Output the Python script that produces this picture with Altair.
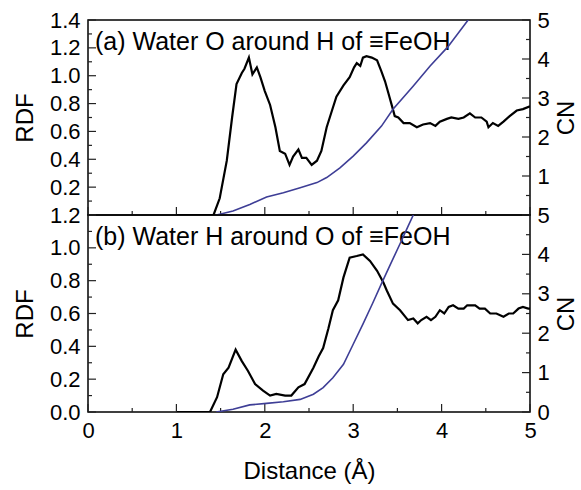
import altair as alt
import pandas as pd

FONT = "Liberation Sans"

# ---------------- data ----------------
# (a) Water O around H of ≡FeOH
a_rdf_d = [1.00, 1.40, 1.42, 1.49, 1.57, 1.63, 1.68, 1.74, 1.77, 1.82, 1.86, 1.91, 1.95, 2.00,
           2.06, 2.12, 2.17, 2.23, 2.28, 2.32, 2.38, 2.42, 2.47, 2.53, 2.59, 2.64, 2.70, 2.76,
           2.81, 2.89, 2.96, 3.01, 3.04, 3.08, 3.11, 3.15, 3.21, 3.27, 3.32, 3.36, 3.40, 3.44,
           3.47, 3.51, 3.57, 3.64, 3.72, 3.79, 3.87, 3.93, 3.98, 4.06, 4.11, 4.19, 4.25, 4.32,
           4.38, 4.45, 4.51, 4.53, 4.58, 4.64, 4.70, 4.77, 4.85, 4.92, 5.00]
a_rdf_g = [0.00, 0.00, 0.00, 0.12, 0.39, 0.70, 0.94, 1.02, 1.05, 1.13, 1.01, 1.06, 0.99, 0.89,
           0.79, 0.63, 0.46, 0.44, 0.36, 0.42, 0.47, 0.41, 0.41, 0.36, 0.39, 0.46, 0.63, 0.75,
           0.85, 0.93, 0.99, 1.06, 1.09, 1.07, 1.13, 1.14, 1.13, 1.11, 1.03, 0.96, 0.87, 0.78,
           0.71, 0.70, 0.66, 0.66, 0.63, 0.65, 0.66, 0.64, 0.67, 0.69, 0.70, 0.69, 0.70, 0.73,
           0.70, 0.70, 0.67, 0.63, 0.66, 0.64, 0.67, 0.71, 0.75, 0.76, 0.78]
a_cn_d = [1.45, 1.49, 1.64, 1.83, 2.02, 2.21, 2.40, 2.59, 2.70, 2.85, 3.00, 3.15, 3.32, 3.45,
          3.68, 3.87, 4.07, 4.30, 4.36]
a_cn_c = [0.00, 0.02, 0.10, 0.27, 0.46, 0.57, 0.70, 0.83, 0.96, 1.21, 1.51, 1.85, 2.28, 2.71,
          3.31, 3.82, 4.31, 5.00, 5.15]

# (b) Water H around O of ≡FeOH
b_rdf_d = [1.00, 1.38, 1.46, 1.53, 1.59, 1.67, 1.74, 1.81, 1.89, 1.98, 2.06, 2.13, 2.23, 2.30,
           2.38, 2.45, 2.55, 2.61, 2.66, 2.72, 2.77, 2.83, 2.89, 2.96, 3.04, 3.11, 3.19, 3.27,
           3.34, 3.38, 3.45, 3.53, 3.62, 3.68, 3.73, 3.77, 3.83, 3.88, 3.93, 3.98, 4.03, 4.08,
           4.13, 4.19, 4.25, 4.29, 4.38, 4.43, 4.49, 4.55, 4.62, 4.70, 4.76, 4.81, 4.87, 4.92,
           4.98, 5.00]
b_rdf_g = [0.00, 0.00, 0.09, 0.23, 0.27, 0.38, 0.31, 0.25, 0.17, 0.13, 0.10, 0.11, 0.10, 0.10,
           0.15, 0.17, 0.27, 0.34, 0.39, 0.51, 0.62, 0.68, 0.82, 0.94, 0.95, 0.96, 0.92, 0.86,
           0.79, 0.74, 0.66, 0.62, 0.56, 0.57, 0.54, 0.56, 0.58, 0.56, 0.58, 0.62, 0.60, 0.64,
           0.65, 0.63, 0.63, 0.65, 0.65, 0.63, 0.63, 0.60, 0.60, 0.58, 0.60, 0.60, 0.63, 0.64,
           0.63, 0.63]
b_cn_d = [1.45, 1.64, 1.83, 2.02, 2.21, 2.40, 2.55, 2.66, 2.77, 2.89, 3.00, 3.11, 3.22, 3.32,
          3.43, 3.53, 3.62, 3.68, 3.72]
b_cn_c = [0.00, 0.07, 0.18, 0.22, 0.26, 0.32, 0.45, 0.62, 0.87, 1.21, 1.72, 2.23, 2.76, 3.26,
          3.79, 4.27, 4.71, 5.00, 5.19]

labels = ["(a) Water O around H of ≡FeOH", "(b) Water H around O of ≡FeOH"]

x_major = [0, 1, 2, 3, 4, 5]
x_minor = [0.5, 1.5, 2.5, 3.5, 4.5]
a_rdf_labels = [0.2, 0.4, 0.6, 0.8, 1.0, 1.2, 1.4]
a_rdf_minor = [0.1, 0.3, 0.5, 0.7, 0.9, 1.1, 1.3]
b_rdf_labels = [0.0, 0.2, 0.4, 0.6, 0.8, 1.0, 1.2]
b_rdf_minor = [0.1, 0.3, 0.5, 0.7, 0.9, 1.1]
a_cn_labels = [1, 2, 3, 4, 5]
b_cn_labels = [0, 1, 2, 3, 4, 5]
cn_minor = [0.5, 1.5, 2.5, 3.5, 4.5]

W = 442
BLUE = "#3e3e96"
MAJ = 8
MIN = 4


def panel(rd, rg, cd, cc, rmax, rlabels, rminor, clabels, label, h, bottom):
    xs = alt.Scale(domain=[0, 5], nice=False, zero=False)
    ys = alt.Scale(domain=[0, rmax], nice=False)
    cs = alt.Scale(domain=[0, 5], nice=False)
    if bottom:
        xaxis = alt.Axis(values=x_major, format="d", ticks=False, domain=False, grid=False,
                         labelFlush=False, labelOverlap=False, labelPadding=8,
                         title="Distance (Å)", titlePadding=18)
    else:
        xaxis = None
    yaxis = alt.Axis(values=rlabels, format=".1f", ticks=False, domain=False, grid=False,
                     labelPadding=8, labelOverlap=False, labelFlush=False,
                     title="RDF", titlePadding=12)
    caxis = alt.Axis(values=clabels, format="d", orient="right", ticks=False, domain=False,
                     grid=False, labelPadding=7, labelOverlap=False, labelFlush=False,
                     title="CN", titleAngle=270, titleBaseline="top", titlePadding=5)

    rdf_df = pd.DataFrame({"d": rd, "g": rg})
    cn_df = pd.DataFrame({"d": cd, "c": cc})

    X = lambda: alt.X("d:Q", scale=xs, axis=xaxis, title="Distance (Å)")
    Y = lambda: alt.Y("g:Q", scale=ys, axis=yaxis, title="RDF")
    C = lambda: alt.Y("c:Q", scale=cs, axis=caxis, title="CN")

    rdf_line = alt.Chart(rdf_df).mark_line(color="black", strokeWidth=2.2, clip=True).encode(
        x=X(), y=Y())
    lmaj = alt.Chart(pd.DataFrame({"g": rlabels})).mark_rule(color="#222", strokeWidth=1.2).encode(
        y=Y(), x=alt.value(0), x2=alt.value(MAJ))
    lmin = alt.Chart(pd.DataFrame({"g": rminor})).mark_rule(color="#222", strokeWidth=1.2).encode(
        y=Y(), x=alt.value(0), x2=alt.value(MIN))
    xmaj = alt.Chart(pd.DataFrame({"d": x_major})).mark_rule(color="#222", strokeWidth=1.2).encode(
        x=X(), y=alt.value(h), y2=alt.value(h - MAJ))
    xmin = alt.Chart(pd.DataFrame({"d": x_minor})).mark_rule(color="#222", strokeWidth=1.2).encode(
        x=X(), y=alt.value(h), y2=alt.value(h - MIN))
    txt = alt.Chart(pd.DataFrame({"t": [label]})).mark_text(
        align="left", baseline="middle", font=FONT, fontSize=25, color="black").encode(
        x=alt.value(7), y=alt.value(22), text="t:N")

    cn_line = alt.Chart(cn_df).mark_line(color=BLUE, strokeWidth=1.6, clip=True).encode(
        x=X(), y=C())
    rmaj = alt.Chart(pd.DataFrame({"c": b_cn_labels})).mark_rule(color="#222", strokeWidth=1.2).encode(
        y=C(), x=alt.value(W), x2=alt.value(W - MAJ))
    rmin = alt.Chart(pd.DataFrame({"c": cn_minor})).mark_rule(color="#222", strokeWidth=1.2).encode(
        y=C(), x=alt.value(W), x2=alt.value(W - MIN))

    left = alt.layer(rdf_line, lmaj, lmin, xmaj, xmin, txt)
    right = alt.layer(cn_line, rmaj, rmin)
    return alt.layer(left, right).resolve_scale(y="independent").properties(width=W, height=h)


top = panel(a_rdf_d, a_rdf_g, a_cn_d, a_cn_c, 1.4, a_rdf_labels, a_rdf_minor, a_cn_labels,
            labels[0], 195, False)
bot = panel(b_rdf_d, b_rdf_g, b_cn_d, b_cn_c, 1.2, b_rdf_labels, b_rdf_minor, b_cn_labels,
            labels[1], 197, True)

chart = alt.vconcat(top, bot, spacing=0, bounds="flush").properties(
    padding={"left": 12, "top": 8, "right": 0, "bottom": 0},
    background="white",
).configure_view(stroke="black", strokeWidth=1.5).configure_axis(
    labelFont=FONT, labelFontSize=22, labelColor="black",
    titleFont=FONT, titleFontSize=24, titleFontWeight="normal", titleColor="black",
)

chart.save("out.html", embed_options={"renderer": "svg", "actions": False})
